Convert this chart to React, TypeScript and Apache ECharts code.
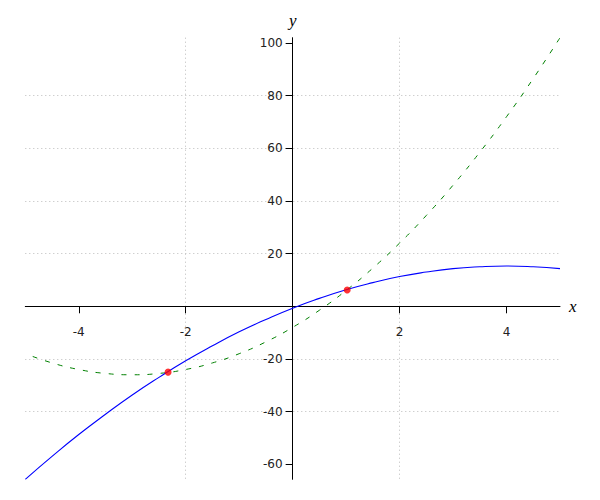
import React, { useEffect, useRef } from "react";
import * as echarts from "echarts";

// Sample positions along x (at half-unit steps)
const xValues = [-5, -4.5, -4, -3.5, -3, -2.5, -2, -1.5, -1, -0.5, 0, 0.5, 1, 1.5, 2, 2.5, 3, 3.5, 4, 4.5, 5];
// Blue solid curve values
const blueValues = [-65.7, -57.0, -48.7, -41.0, -33.7, -27.0, -20.7, -15.0, -9.7, -5.0, -0.7, 3.0, 6.3, 9.0, 11.3, 13.0, 14.3, 15.0, 15.3, 15.0, 14.3];
// Green dashed curve values
const greenValues = [-18, -21.5, -24, -25.5, -26, -25.5, -24, -21.5, -18, -13.5, -8, -1.5, 6, 14.5, 24, 34.5, 46, 58.5, 72, 86.5, 102];
// Red intersection points
const pointX = [-2.33, 1.02];
const pointY = [-25.0, 6.2];
// Tick labels
const xTickLabels = [-4, -2, 2, 4];
const yTickLabels = [-60, -40, -20, 20, 40, 60, 80, 100];

const xMin = -5;
const xMax = 5;
const yMin = -65.7;
const yMax = 102;

export default function App() {
  const ref = useRef<HTMLDivElement>(null);
  useEffect(() => {
    if (!ref.current) return;
    const chart = echarts.init(ref.current, null, { renderer: "svg" });
    const blueData = xValues.map((x, i) => [x, blueValues[i]]);
    const greenData = xValues.map((x, i) => [x, greenValues[i]]);
    const pointData = pointX.map((x, i) => [x, pointY[i]]);

    const gridLeft = 25.3;
    const gridRight = 40;
    const gridTop = 37.7;
    const gridBottom = 20.7;
    const gridW = 600 - gridLeft - gridRight;
    const gridH = 500 - gridTop - gridBottom;
    // place the axes where the other axis is zero (axes cross at origin)
    const xAxisOffset = -((0 - yMin) / (yMax - yMin)) * gridH;
    const yAxisOffset = -((0 - xMin) / (xMax - xMin)) * gridW;

    const labelStyle = {
      fontFamily: "DejaVu Sans",
      fontSize: 12,
      color: "#222",
    };
    const nameStyle = {
      fontFamily: "Liberation Serif",
      fontStyle: "italic" as const,
      fontSize: 17,
      color: "#000",
    };
    chart.setOption({
      animation: false,
      backgroundColor: "#ffffff",
      grid: {
        left: gridLeft,
        right: gridRight,
        top: gridTop,
        bottom: gridBottom,
        containLabel: false,
        outerBoundsMode: "none",
      },
      xAxis: {
        type: "value",
        position: "bottom",
        offset: xAxisOffset,
        min: xMin,
        max: xMax,
        name: "x",
        nameLocation: "end",
        nameGap: 9,
        nameTextStyle: nameStyle,
        axisLine: { show: true, onZero: false, lineStyle: { color: "#000", width: 1 } },
        axisTick: { show: true, length: 7, customValues: xTickLabels, lineStyle: { color: "#000", width: 1 } },
        axisLabel: { ...labelStyle, margin: 20, customValues: xTickLabels, hideOverlap: false },
        splitLine: {
          show: true,
          showMinLine: false,
          showMaxLine: false,
          lineStyle: { color: "#bbbbbb", width: 1, type: [1, 3] },
        },
      },
      yAxis: {
        type: "value",
        position: "left",
        offset: yAxisOffset,
        min: yMin,
        max: yMax,
        splitNumber: 8,
        name: "y",
        nameLocation: "end",
        nameGap: 9,
        nameTextStyle: nameStyle,
        axisLine: { show: true, onZero: false, lineStyle: { color: "#000", width: 1 } },
        axisTick: { show: true, length: 7, customValues: yTickLabels, lineStyle: { color: "#000", width: 1 } },
        axisLabel: { ...labelStyle, margin: 10, customValues: yTickLabels, hideOverlap: false },
        splitLine: {
          show: true,
          showMinLine: false,
          showMaxLine: false,
          lineStyle: { color: "#bbbbbb", width: 1, type: [1, 3] },
        },
      },
      series: [
        {
          type: "line",
          data: greenData,
          smooth: true,
          showSymbol: false,
          symbol: "none",
          lineStyle: { color: "#008000", width: 1, type: [5, 8], dashOffset: 5 },
          z: 2,
        },
        {
          type: "line",
          data: blueData,
          smooth: true,
          showSymbol: false,
          symbol: "none",
          lineStyle: { color: "#0000ff", width: 1.1 },
          z: 3,
        },
        {
          type: "scatter",
          data: pointData,
          symbol: "circle",
          symbolSize: 7,
          itemStyle: { color: "#ff0000" },
          z: 4,
        },
      ],
    });
    return () => chart.dispose();
  }, []);
  return (
    <div
      ref={ref}
      style={{ position: "absolute", left: 0, top: 0, width: 600, height: 500 }}
    />
  );
}
